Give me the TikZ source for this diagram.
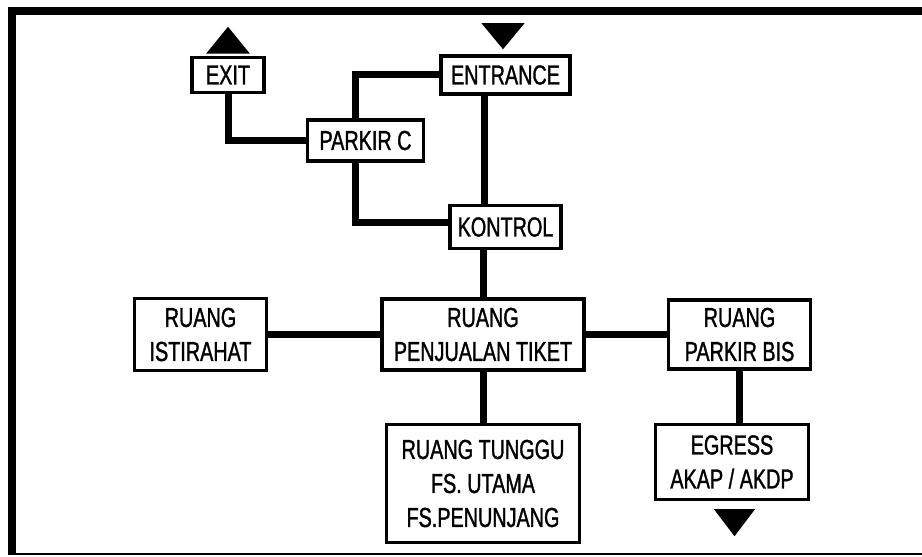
\documentclass[tikz,border=0pt]{standalone}
\usepackage{fontspec}
\setmainfont{Liberation Sans}[FakeStretch=0.72,FakeBold=1.2]
\usepackage{tikz}
\usetikzlibrary{positioning, calc}

\begin{document}
\begin{tikzpicture}[
  blok/.style={rectangle, draw=black, line width=3.5pt, fill=white, inner sep=0pt, font=\fontsize{27.5}{34}\selectfont, align=center},
  link/.style={line width=7pt},
  arah/.style={fill=black}
]
\useasboundingbox (0,0) rectangle (922pt,557pt);
\draw[line width=8pt] (922pt,546pt) -- (12pt,546pt) -- (12pt,3pt);
\draw[line width=1.5pt] (8pt,3pt) -- (922pt,3pt);

\node[blok, minimum width=202pt, minimum height=71pt] (penj) at (483pt,222.5pt) {RUANG\\PENJUALAN TIKET};
\node[blok, minimum width=111pt, minimum height=43pt, above=47pt of penj, xshift=22.5pt] (kontrol) {KONTROL};
\node[blok, minimum width=129pt, minimum height=38pt, above=108pt of kontrol] (entr) {ENTRANCE};
\node[blok, minimum width=116pt, minimum height=41pt, above left=41pt and 23pt of kontrol] (parkc) {PARKIR C};
\node[blok, minimum width=72pt, minimum height=35pt, above left=24pt and 40pt of parkc] (exit) {EXIT};
\node[blok, minimum width=132pt, minimum height=72pt, left=112pt of penj] (istirahat) {RUANG\\ISTIRAHAT};
\node[blok, minimum width=142pt, minimum height=69pt, right=81pt of penj] (parkbis) {RUANG\\PARKIR BIS};
\node[blok, minimum width=193pt, minimum height=118pt, below=51pt of penj] (tunggu) {RUANG TUNGGU\\FS. UTAMA\\FS.PENUNJANG};
\node[blok, minimum width=153pt, minimum height=75pt, below=52pt of parkbis, xshift=-7.5pt] (egress) {EGRESS\\AKAP / AKDP};

\draw[link] (exit.south) |- (parkc.west);
\draw[link] ([xshift=-10pt]parkc.north) |- (entr.west);
\draw[link] ([xshift=-10pt]parkc.south) |- ([yshift=4pt]kontrol.west);
\draw[link] ([xshift=-21pt]entr.south) -- ([xshift=-21pt]entr.south |- kontrol.north);
\draw[link] (penj.north) -- (penj.north |- kontrol.south);
\draw[link] (istirahat.east) -- (istirahat.east -| penj.west);
\draw[link] (penj.east |- parkbis.west) -- (parkbis.west);
\draw[link] (penj.south) -- (penj.south |- tunggu.north);
\draw[link] (parkbis.south) -- (parkbis.south |- egress.north);

\fill[arah] ([yshift=2pt]exit.north) ++(-22pt,0) -- ++(44pt,0) -- ++(-22pt,27pt) -- cycle;
\fill[arah] ([xshift=-2.5pt,yshift=5pt]entr.north) ++(0,26pt) ++(-21.5pt,0) -- ++(43pt,0) -- ++(-21.5pt,-26pt) -- cycle;
\fill[arah] ([xshift=2.5pt,yshift=-8pt]egress.south) ++(-20.5pt,0) -- ++(41pt,0) -- ++(-20.5pt,-27pt) -- cycle;
\end{tikzpicture}
\end{document}
